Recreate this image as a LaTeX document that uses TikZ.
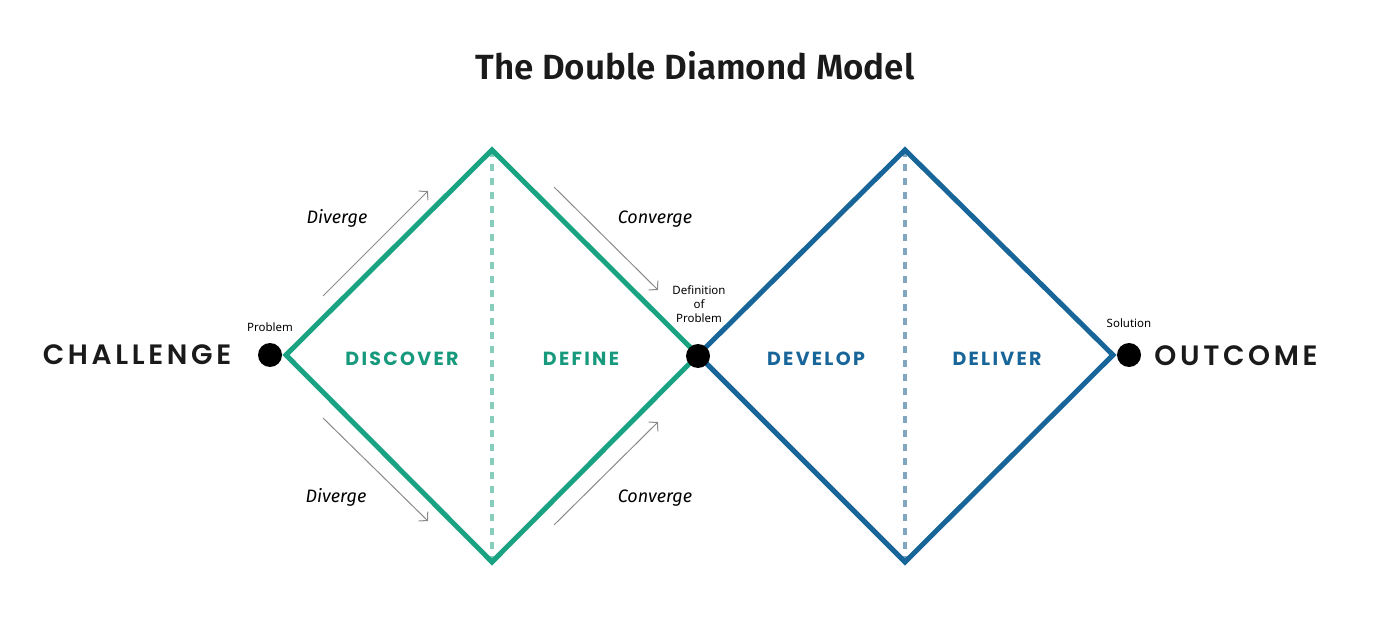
\documentclass[tikz,border=0pt]{standalone}
\usepackage{fontspec}
\setmainfont{Fira Sans}
\newfontfamily\titlefont{Fira Sans SemiBold}
\newfontfamily\popbig[LetterSpace=13]{Poppins SemiBold}
\newfontfamily\popphase[LetterSpace=12]{Poppins Bold}
\newfontfamily\smallsans{Noto Sans}
\usetikzlibrary{arrows.meta}
\definecolor{tealline}{HTML}{1AA382}
\definecolor{tealtxt}{HTML}{16997C}
\definecolor{teallight}{HTML}{86CDBB}
\definecolor{blueline}{HTML}{186699}
\definecolor{bluelight}{HTML}{80A6C2}
\definecolor{arrowgray}{HTML}{8A8A8A}
\definecolor{titlegray}{HTML}{1A1A1A}
\begin{document}
\begin{tikzpicture}[x=1pt,y=-1pt,
  edge/.style={line width=5pt, line join=miter},
  midline/.style={line width=4pt, dash pattern=on 7pt off 7pt},
  dot/.style={circle, fill=black, inner sep=0pt, minimum size=24pt},
  bigword/.style={font=\fontsize{28}{30}\selectfont\popbig, inner sep=0pt, text=titlegray},
  phase/.style={font=\fontsize{19}{21}\selectfont\popphase, inner sep=0pt},
  small/.style={font=\fontsize{11.5}{14}\selectfont\smallsans, inner sep=0pt, align=center},
  flow/.style={font=\fontsize{18}{20}\selectfont\itshape, inner sep=0pt, anchor=base},
  arr/.style={draw=arrowgray, line width=1pt, -{Straight Barb[length=6pt,width=13pt]}}
]
\useasboundingbox (0,0) rectangle (1384,620);

% title
\node[font=\fontsize{35}{40}\selectfont\titlefont, text=titlegray, anchor=base, inner sep=0pt] (title) at (695,80) {The Double Diamond Model};

% diamond vertices
\coordinate (L1) at (286,355);
\coordinate (T1) at (492,150);
\coordinate (B1) at (492,562);
\coordinate (M)  at (698,355);
\coordinate (T2) at (905,150);
\coordinate (B2) at (905,562);
\coordinate (R2) at (1113,355);

% dashed middles
\draw[midline, teallight] (T1) -- (B1);
\draw[midline, bluelight] (T2) -- (B2);

% diamonds
\draw[edge, blueline] (M) -- (T2) -- (R2) -- (B2) -- cycle;
\draw[edge, tealline] (L1) -- (T1) -- (M) -- (B1) -- cycle;

% dots
\node[dot] (pdot) at (270,355) {};
\node[dot] (ddot) at (698,356) {};
\node[dot] (sdot) at (1129,355) {};

% end words
\node[bigword] (challenge) at (137,355) {CHALLENGE};
\node[bigword] (outcome) at (1236,356) {OUTCOME};

% small labels
\node[small, anchor=base] (problem) at (270,331) {Problem};
\node[small] (defn) at (699,304) {Definition\\of\\Problem};
\node[small, anchor=base] (solution) at (1129,327) {Solution};

% phases
\node[phase, text=tealtxt] (discover) at (402,359) {DISCOVER};
\node[phase, text=tealtxt] (define) at (581,359) {DEFINE};
\node[phase, text=blueline] (develop) at (816,359) {DEVELOP};
\node[phase, text=blueline] (deliver) at (997,359) {DELIVER};

% flow labels
\node[flow] (div1) at (337,224) {Diverge};
\node[flow] (div2) at (336,502) {Diverge};
\node[flow] (con1) at (655,224) {Converge};
\node[flow] (con2) at (655,502) {Converge};

% arrows
\coordinate (a1s) at (323,296); \coordinate (a1e) at (428,191);
\coordinate (a2s) at (323,418); \coordinate (a2e) at (428,521);
\coordinate (a3s) at (554,187); \coordinate (a3e) at (658,290);
\coordinate (a4s) at (554,525); \coordinate (a4e) at (658,422);
\draw[arr] (a1s) -- (a1e);
\draw[arr] (a2s) -- (a2e);
\draw[arr] (a3s) -- (a3e);
\draw[arr] (a4s) -- (a4e);
\end{tikzpicture}
\end{document}
